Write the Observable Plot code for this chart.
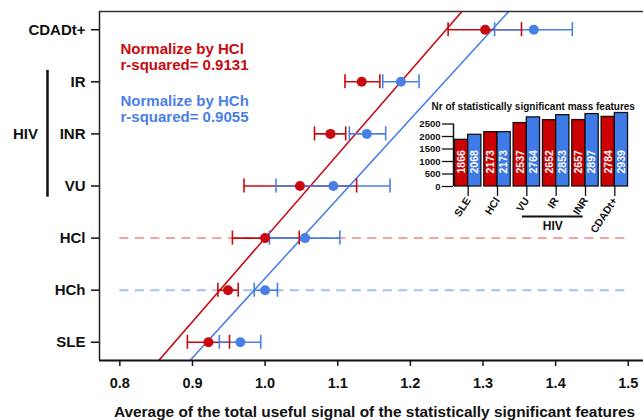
<!DOCTYPE html>
<html><head><meta charset="utf-8">
<script src="https://cdn.jsdelivr.net/npm/d3@7"></script>
<script src="https://cdn.jsdelivr.net/npm/@observablehq/plot@0.6"></script>
<style>
html,body{margin:0;padding:0;background:#fff;}
#wrap{position:relative;width:643px;height:420px;overflow:hidden;}
#main{position:absolute;left:0;top:0;}
#inset{position:absolute;left:420px;top:95px;}
svg{font-family:"Liberation Sans",Arial,Helvetica,sans-serif;font-weight:bold;}
#main [aria-label^="y-axis"] text{font-size:15px;}
#main [aria-label^="x-axis"] text{font-size:14.5px;}
#main [aria-label^="x-axis"] line, #main [aria-label^="x-axis"] path,
#main [aria-label^="y-axis"] line, #main [aria-label^="y-axis"] path{stroke-width:1.5px;}
#inset [aria-label^="x-axis"] text{font-size:10.5px;}
#inset [aria-label^="x-axis"] line, #inset [aria-label^="x-axis"] path,
#inset [aria-label^="y-axis"] line, #inset [aria-label^="y-axis"] path{stroke-width:1.3px;}
</style></head>
<body><div id="wrap"><div id="main"></div><div id="inset"></div></div>
<script>
// ---- main chart data (bottom to top) ----
const categories = ["SLE","HCh","HCl","VU","INR","IR","CDADt+"];
const hclMean = [0.922,0.949,1.000,1.048,1.090,1.133,1.303];
const hclLow  = [0.893,0.935,0.955,0.971,1.068,1.110,1.252];
const hclHigh = [0.951,0.963,1.047,1.126,1.111,1.158,1.353];
const hchMean = [0.966,1.000,1.055,1.094,1.140,1.187,1.370];
const hchLow  = [0.937,0.985,1.006,1.015,1.116,1.162,1.316];
const hchHigh = [0.994,1.017,1.103,1.172,1.166,1.212,1.423];
const seriesNames = ["HCl","HCh"];
const fitIntercept = [0.8754, 0.9195];
const fitSlope = [0.0623, 0.0655];
const rSquared = ["0.9131","0.9055"];
const hivGroup = ["VU","INR","IR"];
const xTicks = [0.8,0.9,1.0,1.1,1.2,1.3,1.4,1.5];
const xTitle = "Average of the total useful signal of the statistically significant features";

// ---- inset data ----
const barGroups = ["SLE","HCl","VU","IR","INR","CDADt+"];
const barHCl = [1866,2173,2537,2652,2657,2784];
const barHCh = [2068,2173,2764,2853,2897,2939];
const barTicks = [0,500,1000,1500,2000,2500];
const insetTitle = "Nr of statistically significant mass features";
const insetHiv = ["VU","IR","INR"];

const RED = "#c80a0f", BLUE = "#4a7fe6";
const LRED = "#f2a3a3", LBLUE = "#a9bff2";
const font = '"Liberation Sans",Arial,Helvetica,sans-serif';

const xDomain = [0.772, 1.521];
const yDomain = [-0.35, 6.35];

const means = [hclMean, hchMean], lows = [hclLow, hchLow], highs = [hclHigh, hchHigh];
const points = seriesNames.flatMap((s,k) => categories.map((c,i) => ({
  series: s, y: i, mean: means[k][i], low: lows[k][i], high: highs[k][i]})));
const fits = seriesNames.flatMap((s,k) => yDomain.map(y => ({series: s, y, x: fitIntercept[k] + fitSlope[k]*y})));
const refRows = [{y: categories.indexOf("HCl"), c: LRED}, {y: categories.indexOf("HCh"), c: LBLUE}];
const hivIdx = hivGroup.map(g => categories.indexOf(g));
const capH = 0.135;

const main = Plot.plot({
  width: 643, height: 420,
  marginTop: 11, marginBottom: 60, marginLeft: 99, marginRight: 0,
  style: {fontFamily: font, fontSize: "14.5px", fontWeight: "bold", color: "#111", background: "transparent", overflow: "visible"},
  x: {domain: xDomain, ticks: xTicks, tickFormat: d => d.toFixed(1), tickSize: 6, tickPadding: 11, label: null},
  y: {domain: yDomain, ticks: d3.range(categories.length), tickFormat: i => categories[i], tickSize: 8, tickPadding: 6, label: null},
  color: {domain: seriesNames, range: [RED, BLUE]},
  marks: [
    Plot.ruleY(refRows, {y: "y", x1: xTicks[0], x2: xTicks[xTicks.length-1], stroke: "c", strokeWidth: 2, strokeDasharray: "9,6.5"}),
    Plot.line(fits, {x: "x", y: "y", z: "series", stroke: "series", strokeWidth: 1.6}),
    Plot.ruleY(points, {y: "y", x1: "low", x2: "high", stroke: "series", strokeWidth: 1.6}),
    Plot.ruleX(points, {x: "low", y1: d => d.y - capH, y2: d => d.y + capH, stroke: "series", strokeWidth: 1.6}),
    Plot.ruleX(points, {x: "high", y1: d => d.y - capH, y2: d => d.y + capH, stroke: "series", strokeWidth: 1.6}),
    Plot.dot(points, {x: "mean", y: "y", fill: "series", r: 5}),
    // frame
    Plot.ruleX([xDomain[0]], {y1: yDomain[0], y2: yDomain[1], stroke: "#222", strokeWidth: 1.5}),
    Plot.ruleY([yDomain[1]], {stroke: "#333", strokeWidth: 1.5}),
    Plot.ruleY([yDomain[0]], {stroke: "#111", strokeWidth: 2}),
    // HIV bracket
    Plot.ruleX([xDomain[0]], {dx: -52, y1: d3.min(hivIdx) - 0.215, y2: d3.max(hivIdx) + 0.22, stroke: "#111", strokeWidth: 2.5}),
    Plot.text(["HIV"], {x: xDomain[0], y: categories.indexOf("INR"), dx: -74, textAnchor: "middle", fontSize: 15, fill: "#111"}),
    // legend texts
    Plot.text([`Normalize by ${seriesNames[0]}\nr-squared= ${rSquared[0]}`], {frameAnchor: "top-left", dx: 21, dy: 31, lineAnchor: "top", textAnchor: "start", fill: RED, fontSize: 15, lineHeight: 1.07}),
    Plot.text([`Normalize by ${seriesNames[1]}\nr-squared= ${rSquared[1]}`], {frameAnchor: "top-left", dx: 21, dy: 83, lineAnchor: "top", textAnchor: "start", fill: BLUE, fontSize: 15, lineHeight: 1.07}),
    // x title
    Plot.text([xTitle], {frameAnchor: "bottom", dx: 3, dy: 46, lineAnchor: "top", textAnchor: "middle", fontSize: 15.4, fill: "#111"})
  ]
});
document.getElementById("main").appendChild(main);

// ---- inset ----
const bars = barGroups.flatMap((g,i) => [
  {g, s: "HCl", v: barHCl[i], x1: i + 0.05, x2: i + 0.5},
  {g, s: "HCh", v: barHCh[i], x1: i + 0.5, x2: i + 0.95}
]);
const hivI = insetHiv.map(g => barGroups.indexOf(g));
const hivX1 = d3.min(hivI) + 0.35, hivX2 = d3.max(hivI) + 0.42;

const inset = Plot.plot({
  width: 223, height: 150,
  marginTop: 16, marginBottom: 59, marginLeft: 33, marginRight: 14,
  style: {fontFamily: font, fontSize: "9.5px", fontWeight: "bold", color: "#111", background: "transparent", overflow: "visible"},
  x: {domain: [0, barGroups.length], ticks: barGroups.map((g,i) => i + 0.5), tickFormat: d => barGroups[Math.floor(d)], tickRotate: -57, tickSize: 10, tickPadding: 2, label: null},
  y: {domain: [0, 3000], ticks: barTicks, tickFormat: d3.format("d"), tickSize: 11, tickPadding: 2, label: null},
  color: {domain: seriesNames, range: ["#cc0000", "#3f7be8"]},
  marks: [
    Plot.rectY(bars, {x1: "x1", x2: "x2", y1: 0, y2: "v", fill: "s", stroke: "#111", strokeWidth: 1.3}),
    Plot.text(bars, {x: d => (d.x1 + d.x2)/2, y: 0, text: d => String(d.v), rotate: -90, textAnchor: "start", dy: -13, fill: "white", fontSize: 10.5}),
    Plot.ruleX([0], {y1: barTicks[0], y2: barTicks[barTicks.length-1], stroke: "#111", strokeWidth: 1.5}),
    Plot.text([insetTitle], {frameAnchor: "top-left", dx: -22, dy: -5, textAnchor: "start", lineAnchor: "middle", fontSize: 10, fill: "#111"}),
    Plot.ruleY([0], {x1: hivX1, x2: hivX2, dy: 30, stroke: "#111", strokeWidth: 2}),
    Plot.text(["HIV"], {x: (hivX1 + hivX2)/2, y: 0, dy: 40, textAnchor: "middle", lineAnchor: "middle", fontSize: 12, fill: "#111"})
  ]
});
document.getElementById("inset").appendChild(inset);
</script></body></html>
